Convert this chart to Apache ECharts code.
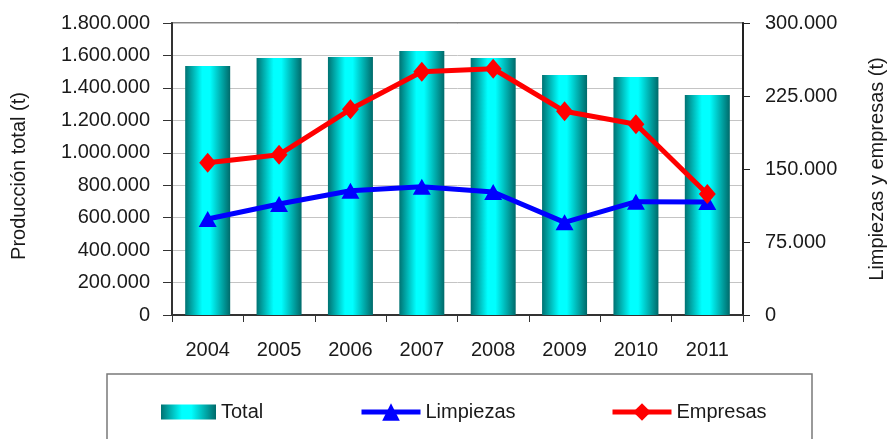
<!DOCTYPE html>
<html>
<head>
<meta charset="utf-8">
<script src="https://cdn.jsdelivr.net/npm/echarts@6/dist/echarts.min.js"></script>
<style>
  html, body { margin: 0; padding: 0; background: #fff; }
  #chart { width: 887px; height: 439px; }
</style>
</head>
<body>
<div id="chart"></div>
<script>
// Annual production, tonnes
const years = ['2004', '2005', '2006', '2007', '2008', '2009', '2010', '2011'];
const total = [1535000, 1584000, 1590000, 1627000, 1584000, 1479000, 1467000, 1356000];
const limpiezas = [98600, 114000, 127700, 131800, 126400, 95200, 116400, 116000];
const empresas = [156500, 164700, 211300, 250000, 253000, 209300, 195900, 124300];

const FONT = '"Liberation Sans", Arial, sans-serif';
const TEXT = '#1a1a1a';

function miles(v) {
  return String(v).replace(/\B(?=(\d{3})+(?!\d))/g, '.');
}

const chart = echarts.init(document.getElementById('chart'), null, { renderer: 'canvas' });

const barFill = new echarts.graphic.LinearGradient(0, 0, 1, 0, [
  { offset: 0, color: '#007272' },
  { offset: 0.38, color: '#00ffff' },
  { offset: 0.55, color: '#00ffff' },
  { offset: 1, color: '#006a6a' }
]);

const legendText = { fontFamily: FONT, fontSize: 20, color: TEXT };

chart.setOption({
  animation: false,
  backgroundColor: '#ffffff',
  grid: {
    left: 172, right: 144, top: 23, bottom: 124,
    outerBoundsMode: 'none',
    show: true, borderColor: '#858585', borderWidth: 2, backgroundColor: 'transparent'
  },
  graphic: [{
    type: 'rect',
    shape: { x: 107, y: 374, width: 705, height: 90 },
    style: { fill: 'none', stroke: '#7a7a7a', lineWidth: 1.5 },
    silent: true
  }],
  legend: [
    { data: ['Total'], icon: 'rect', left: 156, top: 397, itemWidth: 55, itemHeight: 15, itemGap: 0, textStyle: legendText },
    { data: ['Limpiezas'], left: 354, top: 397, itemWidth: 59, itemHeight: 22, itemGap: 0,
      lineStyle: { width: 5 }, textStyle: legendText },
    { data: ['Empresas'], left: 605, top: 397, itemWidth: 59, itemHeight: 22, itemGap: 0,
      lineStyle: { width: 5 }, textStyle: legendText }
  ],
  xAxis: {
    type: 'category',
    data: years,
    axisLine: { lineStyle: { color: '#333', width: 2 } },
    axisTick: { show: true, length: 7, lineStyle: { color: '#333' } },
    axisLabel: { fontFamily: FONT, fontSize: 20, color: TEXT, margin: 25 }
  },
  yAxis: [{
    type: 'value',
    min: 0, max: 1800000, interval: 200000,
    name: 'Producción total (t)',
    nameLocation: 'middle',
    nameGap: 143,
    nameTextStyle: { fontFamily: FONT, fontSize: 20, color: TEXT, padding: [0, 14, 0, 0] },
    axisLine: { show: true, lineStyle: { color: '#333', width: 2 } },
    axisTick: { show: true, length: 9, lineStyle: { color: '#333' } },
    axisLabel: { fontFamily: FONT, fontSize: 20, color: TEXT, margin: 22, formatter: miles },
    splitLine: { show: true, lineStyle: { color: '#c4c4c4', width: 1 } }
  }, {
    type: 'value',
    min: 0, max: 300000, interval: 75000,
    position: 'right',
    name: 'Limpiezas y empresas (t)',
    nameLocation: 'middle',
    nameGap: 124,
    nameRotate: 90,
    nameTextStyle: { fontFamily: FONT, fontSize: 20, color: TEXT },
    axisLine: { show: true, lineStyle: { color: '#222', width: 2 } },
    axisTick: { show: true, length: 7, lineStyle: { color: '#222' } },
    axisLabel: { fontFamily: FONT, fontSize: 20, color: TEXT, margin: 22, formatter: miles },
    splitLine: { show: false }
  }],
  series: [{
    name: 'Total',
    type: 'bar',
    yAxisIndex: 0,
    barWidth: 45,
    data: total,
    itemStyle: { color: barFill }
  }, {
    name: 'Limpiezas',
    type: 'line',
    yAxisIndex: 1,
    data: limpiezas,
    symbol: 'triangle',
    symbolSize: [18, 16],
    lineStyle: { color: '#0000ff', width: 5 },
    itemStyle: { color: '#0000ff' }
  }, {
    name: 'Empresas',
    type: 'line',
    yAxisIndex: 1,
    data: empresas,
    symbol: 'diamond',
    symbolSize: [17, 20],
    lineStyle: { color: '#ff0000', width: 5 },
    itemStyle: { color: '#ff0000' }
  }]
});
</script>
</body>
</html>
